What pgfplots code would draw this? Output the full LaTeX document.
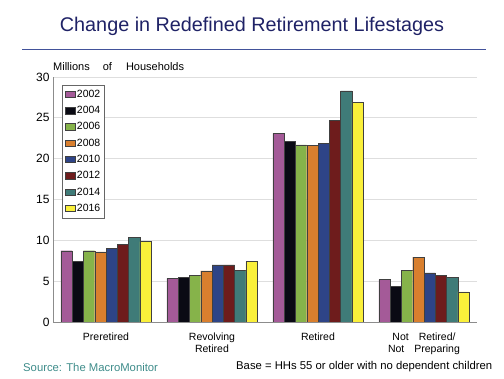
\documentclass[border=0pt]{standalone}
\usepackage{pgfplots}
\pgfplotsset{compat=1.18}
\usepackage{fontspec}
\setmainfont{Liberation Sans}
\definecolor{titleblue}{HTML}{1F2266}
\definecolor{rulecol}{HTML}{42529A}
\definecolor{srccol}{HTML}{3E8C8A}
\definecolor{c02}{HTML}{A45A98}
\definecolor{c04}{HTML}{0A0A14}
\definecolor{c06}{HTML}{86B34A}
\definecolor{c08}{HTML}{D97F2E}
\definecolor{c10}{HTML}{2E4487}
\definecolor{c12}{HTML}{6E1C1C}
\definecolor{c14}{HTML}{3F7B78}
\definecolor{c16}{HTML}{FAF03A}
\begin{document}
\begin{tikzpicture}
\path (0,0) rectangle (504bp,379bp);
\node[font=\fontsize{19.8bp}{23bp}\selectfont, text=titleblue] at (252bp,353bp) {Change in Redefined Retirement Lifestages};
\draw[rulecol, line width=1.1bp] (22bp,329.7bp) -- (486bp,329.7bp);
\node[anchor=west, inner sep=0pt, font=\fontsize{11bp}{13bp}\selectfont] at (53bp,312bp) {Millions\hspace{13bp}of\hspace{14bp}Households};
\node[anchor=west, inner sep=0pt, text=srccol, font=\fontsize{11.3bp}{13bp}\selectfont] at (23bp,12bp) {Source: The MacroMonitor};
\node[anchor=west, inner sep=0pt, font=\fontsize{11.3bp}{13bp}\selectfont] at (236bp,12bp) {Base = HHs 55 or older with no dependent children};
\begin{axis}[
  at={(53bp,57bp)}, anchor=south west,
  scale only axis, width=424bp, height=245bp,
  xmin=-0.5, xmax=3.5, ymin=0, ymax=30,
  ybar=0pt, bar width=11.3bp,
  xtick={0,1,2,3},
  xticklabels={Preretired, {Revolving\\Retired}, Retired, {Not\hspace{10bp}Retired/\\Not\hspace{10bp}Preparing}},
  xticklabel style={align=center, font=\fontsize{10.5bp}{12.7bp}\selectfont, yshift=-7bp},
  ytick={0,5,...,30},
  yticklabel style={font=\fontsize{12bp}{14bp}\selectfont},
  /pgf/number format/assume math mode=true,
  major tick length=0pt,
  ymajorgrids, grid style={draw=black!13, line width=0.8bp},
  axis x line*=bottom, axis y line*=left,
  axis line style={draw=black!45, line width=0.8bp},
  every outer x axis line/.append style={-}, every outer y axis line/.append style={-},
  legend style={at={(0.022,0.969)}, anchor=north west, draw=black!60, line width=0.5bp,
    font=\fontsize{10.5bp}{12bp}\selectfont, row sep=3.5bp, inner xsep=2bp, inner ysep=3bp},
  legend cell align=left,
  legend image code/.code={\draw[#1, line width=0.4bp] (0bp,-3.2bp) rectangle (10bp,3.2bp);},
  every axis plot/.append style={draw=black!75, line width=0.4bp},
]
\addplot[fill=c02] coordinates {(0,8.73) (1,5.35) (2,23.1) (3,5.2)};
\addplot[fill=c04] coordinates {(0,7.46) (1,5.45) (2,22.15) (3,4.4)};
\addplot[fill=c06] coordinates {(0,8.73) (1,5.75) (2,21.7) (3,6.3)};
\addplot[fill=c08] coordinates {(0,8.6) (1,6.25) (2,21.6) (3,7.95)};
\addplot[fill=c10] coordinates {(0,8.98) (1,7.0) (2,21.9) (3,6.0)};
\addplot[fill=c12] coordinates {(0,9.47) (1,7.0) (2,24.7) (3,5.7)};
\addplot[fill=c14] coordinates {(0,10.37) (1,6.35) (2,28.3) (3,5.5)};
\addplot[fill=c16] coordinates {(0,9.84) (1,7.4) (2,26.9) (3,3.7)};
\legend{2002,2004,2006,2008,2010,2012,2014,2016}
\end{axis}
\end{tikzpicture}
\end{document}
